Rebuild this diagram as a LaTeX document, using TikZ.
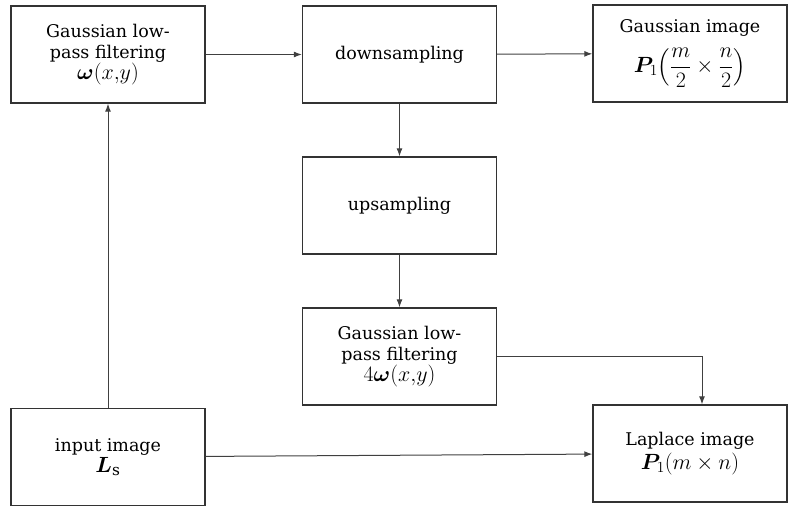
\RequirePackage{fix-cm}
\documentclass[tikz,border=0pt]{standalone}
\usepackage{amsmath,bm}
\usepackage{fontspec}
\setmainfont{DejaVu Serif}
\usetikzlibrary{arrows.meta}
\newcommand\mth[1]{{\fontsize{22}{21}\selectfont$#1$}}
\begin{document}
\begin{tikzpicture}[x=1pt,y=-1pt,
  blk/.style={draw=black!80,line width=1.4pt,minimum width=194pt,minimum height=97pt,
    align=center,inner sep=2pt,font=\fontsize{17.5}{21}\selectfont},
  conn/.style={draw=black!75,line width=1pt,-{Latex[length=8pt,width=6pt]}}]
\useasboundingbox (0,0) rectangle (798,509);
\node[blk] (A) at (108,54.5) {Gaussian low-\\pass filtering\\\mth{\bm{\omega}(x{,}y)}};
\node[blk] (B) at (399.5,54.5) {downsampling};
\node[blk] (C) at (690,53.5) {Gaussian image\\[11pt]\mth{\bm{P}_{1}\!\left(\dfrac{m}{2}\times\dfrac{n}{2}\right)}};
\node[blk] (D) at (399.5,205.5) {upsampling};
\node[blk] (E) at (399.5,356.5) {Gaussian low-\\pass filtering\\\mth{4\bm{\omega}(x{,}y)}};
\node[blk] (F) at (108,457) {input image\\\mth{\bm{L}_{\mathrm{s}}}};
\node[blk] (G) at (690,453.5) {Laplace image\\[3pt]\mth{\bm{P}_{1}(m\times n)}};
\coordinate (Gt) at ([xshift=12pt]G.north);
\draw[conn] (F) -- (A);
\draw[conn] (A) -- (B);
\draw[conn] (B) -- (C);
\draw[conn] (B) -- (D);
\draw[conn] (D) -- (E);
\draw[conn] (E.east) -| (Gt);
\draw[conn] (F) -- (G);
\end{tikzpicture}
\end{document}
